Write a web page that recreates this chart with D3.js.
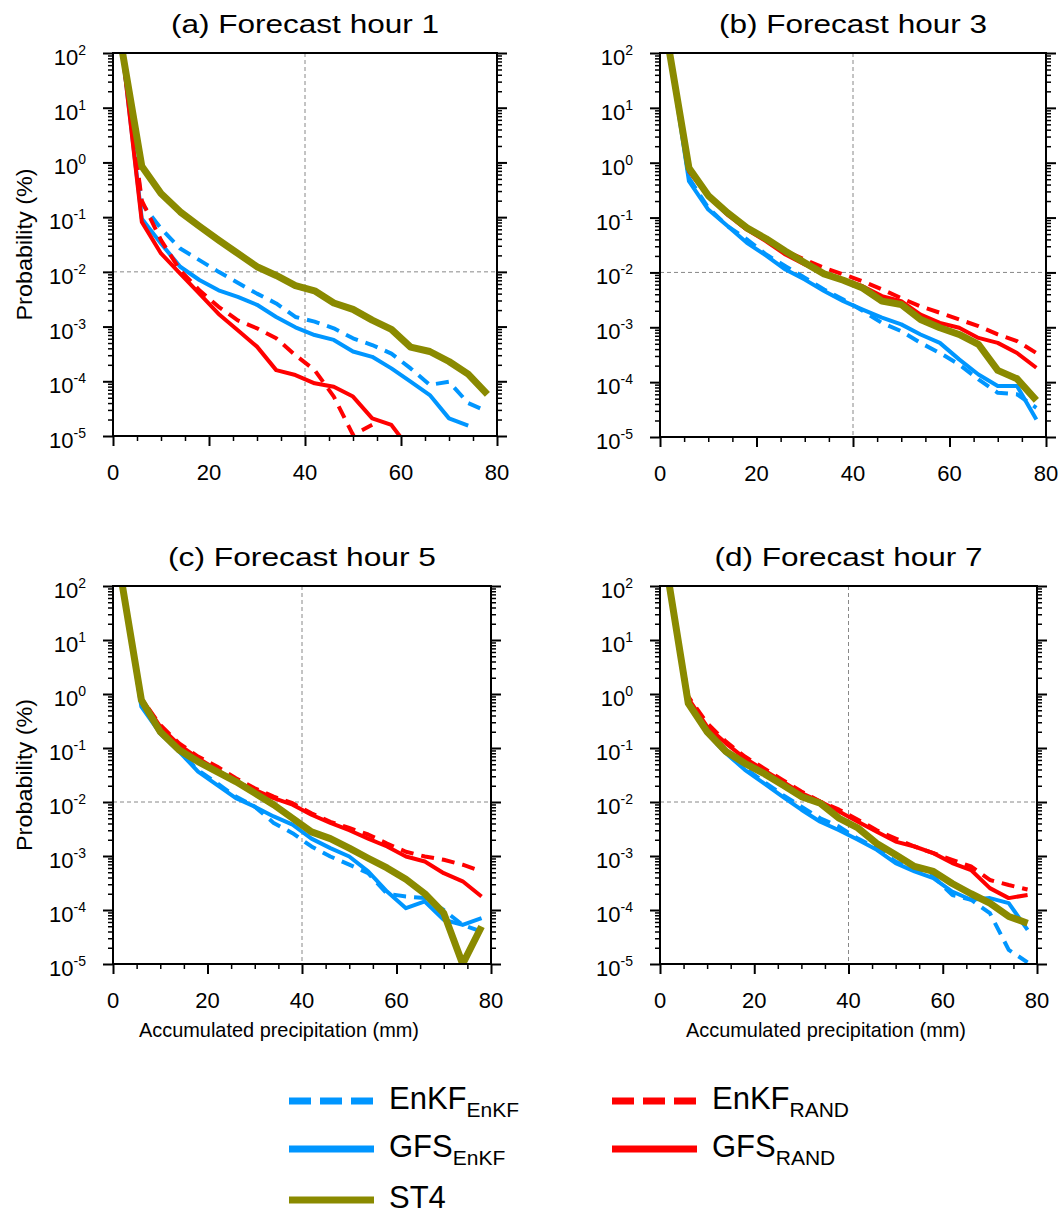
<!DOCTYPE html>
<html>
<head>
<meta charset="utf-8">
<script src="https://cdn.jsdelivr.net/npm/d3@7"></script>
<style>
  body { margin: 0; background: #fff; }
  svg { display: block; font-family: "Liberation Sans", Arial, Helvetica, sans-serif; }
</style>
</head>
<body>
<svg id="chart" width="1060" height="1217"></svg>
<script>
// precipitation thresholds (mm)
var thresholds = [2, 6, 10, 14, 18, 22, 26, 30, 34, 38, 42, 46, 50, 54, 58, 62, 66, 70, 74, 78];
var xTicks = [0, 20, 40, 60, 80];
var xMinor = [5, 10, 15, 25, 30, 35, 45, 50, 55, 65, 70, 75];
var yExponents = [2, 1, 0, -1, -2, -3, -4, -5];
var panelTitles = ['(a) Forecast hour 1', '(b) Forecast hour 3', '(c) Forecast hour 5', '(d) Forecast hour 7'];

// probability (%) per threshold
var h1_enkfEnkf = [100, 0.177, 0.062, 0.0267, 0.0164, 0.01, 0.0063, 0.004, 0.00265, 0.0015, 0.00123, 0.00093, 0.00061, 0.00046, 0.00032, 0.000172, 0.000086, 0.000098, 0.00004, 0.000028];
var h1_gfsEnkf  = [100, 0.094, 0.033, 0.0124, 0.0071, 0.0046, 0.0035, 0.0025, 0.0015, 0.00097, 0.0007, 0.00057, 0.00035, 0.00028, 0.000172, 0.0000984, 0.000056, 0.000021, 0.0000155];
var h1_enkfRand = [100, 0.2, 0.038, 0.0107, 0.0046, 0.0023, 0.0013, 0.00093, 0.00061, 0.0003, 0.00016, 0.0000525, 0.0000105, 0.000016];
var h1_gfsRand  = [100, 0.082, 0.0217, 0.0093, 0.004, 0.0017, 0.00086, 0.00043, 0.00016, 0.00013, 0.0000917, 0.0000797, 0.0000525, 0.000021, 0.0000159, 0.0000055];
var h1_st4      = [100, 0.85, 0.27, 0.125, 0.068, 0.038, 0.0217, 0.0124, 0.0086, 0.0056, 0.0045, 0.0027, 0.00206, 0.00131, 0.00089, 0.00042, 0.00035, 0.00023, 0.000135, 0.0000575];

var h3_enkfEnkf = [100, 0.53, 0.15, 0.07, 0.04, 0.0212, 0.013, 0.008, 0.0049, 0.0032, 0.002, 0.0012, 0.00085, 0.00052, 0.00034, 0.00021, 0.000112, 0.000064, 0.00006, 0.000034];
var h3_gfsEnkf  = [100, 0.46, 0.14, 0.07, 0.0346, 0.0203, 0.0113, 0.0074, 0.0046, 0.003, 0.0021, 0.0015, 0.00113, 0.00074, 0.00052, 0.00026, 0.000138, 0.0000848, 0.0000848, 0.0000209];
var h3_enkfRand = [100, 0.75, 0.245, 0.113, 0.0605, 0.04, 0.0244, 0.0172, 0.0121, 0.0092, 0.0069, 0.0049, 0.0034, 0.0024, 0.00184, 0.00139, 0.00105, 0.00074, 0.00056, 0.00034];
var h3_gfsRand  = [100, 0.7, 0.245, 0.113, 0.0605, 0.037, 0.0212, 0.014, 0.0098, 0.0074, 0.0056, 0.0037, 0.003, 0.0017, 0.0012, 0.00098, 0.00064, 0.00052, 0.00034, 0.000183];
var h3_st4      = [100, 0.8, 0.252, 0.122, 0.065, 0.041, 0.0244, 0.015, 0.0094, 0.0072, 0.0052, 0.003, 0.0026, 0.00139, 0.00098, 0.00074, 0.00049, 0.000164, 0.000115, 0.0000465];

var h5_enkfEnkf = [100, 0.67, 0.187, 0.086, 0.039, 0.0223, 0.0126, 0.0082, 0.0041, 0.00265, 0.0015, 0.00098, 0.00069, 0.00048, 0.0002, 0.000178, 0.000166, 0.0001, 0.000053, 0.00004];
var h5_gfsEnkf  = [100, 0.585, 0.187, 0.086, 0.0366, 0.0208, 0.0118, 0.0082, 0.0054, 0.0038, 0.0021, 0.0014, 0.00098, 0.00052, 0.00022, 0.000108, 0.000144, 0.000066, 0.000053, 0.0000708];
var h5_enkfRand = [100, 0.83, 0.267, 0.122, 0.0695, 0.0453, 0.0275, 0.018, 0.0126, 0.0095, 0.0062, 0.0043, 0.0033, 0.0025, 0.0017, 0.0012, 0.00098, 0.00085, 0.00069, 0.00052];
var h5_gfsRand  = [100, 0.83, 0.249, 0.114, 0.0647, 0.0394, 0.0239, 0.0168, 0.0118, 0.0089, 0.0058, 0.0041, 0.003, 0.0021, 0.0015, 0.00098, 0.00079, 0.00048, 0.00034, 0.000178];
var h5_st4      = [100, 0.776, 0.2, 0.092, 0.056, 0.0366, 0.0239, 0.0146, 0.0089, 0.005, 0.0028, 0.0021, 0.0014, 0.00091, 0.0006, 0.00037, 0.0002, 0.0000875, 0.00001, 0.0000495];

var h7_enkfEnkf = [100, 0.67, 0.187, 0.08, 0.0423, 0.0239, 0.0136, 0.0082, 0.005, 0.0035, 0.0021, 0.0014, 0.00079, 0.00055, 0.00042, 0.00019, 0.000155, 0.0000875, 0.0000183, 0.0000107];
var h7_gfsEnkf  = [100, 0.67, 0.187, 0.08, 0.0394, 0.0223, 0.0126, 0.0072, 0.0043, 0.003, 0.002, 0.0013, 0.00074, 0.00052, 0.00039, 0.00022, 0.000155, 0.000166, 0.000134, 0.000043];
var h7_enkfRand = [100, 0.9, 0.287, 0.131, 0.0695, 0.0423, 0.0257, 0.0156, 0.0102, 0.0072, 0.0047, 0.003, 0.0021, 0.0015, 0.00113, 0.00085, 0.00064, 0.00036, 0.00029, 0.00024];
var h7_gfsRand  = [100, 0.83, 0.249, 0.122, 0.0647, 0.0394, 0.0239, 0.0146, 0.0102, 0.0067, 0.0043, 0.0028, 0.00185, 0.0015, 0.00113, 0.00074, 0.00055, 0.000254, 0.000166, 0.00019];
var h7_st4      = [100, 0.67, 0.2, 0.086, 0.052, 0.034, 0.0208, 0.0126, 0.0095, 0.005, 0.0033, 0.0017, 0.00105, 0.00064, 0.00052, 0.00031, 0.0002, 0.000134, 0.000076, 0.000057];

var seriesNames = ['EnKF_EnKF', 'GFS_EnKF', 'EnKF_RAND', 'GFS_RAND', 'ST4'];
var seriesColors = ['#0096ff', '#0096ff', '#ff0000', '#ff0000', '#8a8a00'];
var seriesDash = [true, false, true, false, false];
var panelData = [
  [h1_enkfEnkf, h1_gfsEnkf, h1_enkfRand, h1_gfsRand, h1_st4],
  [h3_enkfEnkf, h3_gfsEnkf, h3_enkfRand, h3_gfsRand, h3_st4],
  [h5_enkfEnkf, h5_gfsEnkf, h5_enkfRand, h5_gfsRand, h5_st4],
  [h7_enkfEnkf, h7_gfsEnkf, h7_enkfRand, h7_gfsRand, h7_st4]
];

var boxes = [
  {x: 113, y: 53, w: 384, h: 383},
  {x: 660, y: 53, w: 386, h: 384},
  {x: 113, y: 586, w: 378, h: 378},
  {x: 660, y: 586, w: 377, h: 378}
];

var svg = d3.select('#chart');

var yMinor = [];
for (var e = -5; e < 2; e++) {
  for (var m = 2; m <= 9; m++) yMinor.push(m * Math.pow(10, e));
}

boxes.forEach(function(b, i) {
  var g = svg.append('g').attr('transform', 'translate(' + b.x + ',' + b.y + ')');
  var x = d3.scaleLinear().domain([0, 80]).range([0, b.w]);
  var y = d3.scaleLog().domain([1e-5, 100]).range([b.h, 0]);

  g.append('defs').append('clipPath').attr('id', 'clip' + i)
    .append('rect').attr('width', b.w).attr('height', b.h);

  // reference lines
  g.append('line')
    .attr('x1', x(40)).attr('x2', x(40)).attr('y1', 0).attr('y2', b.h)
    .attr('stroke', '#888').attr('stroke-width', 1).attr('stroke-dasharray', '4,3');
  g.append('line')
    .attr('x1', 0).attr('x2', b.w).attr('y1', y(0.01)).attr('y2', y(0.01))
    .attr('stroke', '#888').attr('stroke-width', 1).attr('stroke-dasharray', '4,3');

  var line = d3.line()
    .x(function(d, k) { return x(thresholds[k]); })
    .y(function(d) { return y(d); });

  var lines = g.append('g').attr('clip-path', 'url(#clip' + i + ')');
  panelData[i].forEach(function(vals, s) {
    lines.append('path')
      .attr('d', line(vals))
      .attr('fill', 'none')
      .attr('stroke', seriesColors[s])
      .attr('stroke-width', s === 4 ? 7 : 4)
      .attr('stroke-linejoin', 'round')
      .attr('stroke-dasharray', seriesDash[s] ? '13,8' : null);
  });

  // axes
  function styleAxis(sel, w) {
    sel.select('.domain').remove();
    sel.selectAll('line').attr('stroke', '#000').attr('stroke-width', w);
    sel.selectAll('text').remove();
  }
  g.append('g').attr('transform', 'translate(0,' + b.h + ')')
    .call(d3.axisBottom(x).tickValues(xTicks).tickSize(10))
    .call(styleAxis, 2);
  g.append('g').attr('transform', 'translate(0,' + b.h + ')')
    .call(d3.axisBottom(x).tickValues(xMinor).tickSize(5))
    .call(styleAxis, 1.5);
  [['axisLeft', 0], ['axisRight', b.w]].forEach(function(a) {
    g.append('g').attr('transform', 'translate(' + a[1] + ',0)')
      .call(d3[a[0]](y).tickValues(yExponents.map(function(p) { return Math.pow(10, p); })).tickSize(10))
      .call(styleAxis, 2);
    g.append('g').attr('transform', 'translate(' + a[1] + ',0)')
      .call(d3[a[0]](y).tickValues(yMinor).tickSize(5))
      .call(styleAxis, 1.5);
  });

  g.append('rect').attr('width', b.w).attr('height', b.h)
    .attr('fill', 'none').attr('stroke', '#000').attr('stroke-width', 2);

  // tick labels
  g.selectAll('.xl').data(xTicks).enter().append('text')
    .attr('x', function(d) { return x(d); }).attr('y', b.h + 44)
    .attr('text-anchor', 'middle').attr('font-size', 22).text(function(d) { return d; });

  var yl = g.selectAll('.yl').data(yExponents).enter().append('text')
    .attr('x', -27).attr('y', function(d) { return y(Math.pow(10, d)) + 12; })
    .attr('text-anchor', 'end').attr('font-size', 22);
  yl.append('tspan').text('10');
  yl.append('tspan').attr('dy', -10).attr('font-size', 14).text(function(d) { return d; });

  g.append('text').attr('x', b.w / 2).attr('y', -20)
    .attr('text-anchor', 'middle').attr('font-size', 25)
    .attr('textLength', 268).attr('lengthAdjust', 'spacingAndGlyphs')
    .text(panelTitles[i]);

  if (i >= 2) {
    g.append('text').attr('x', 166).attr('y', b.h + 73)
      .attr('text-anchor', 'middle')
      .attr('font-size', 21).attr('textLength', 280).attr('lengthAdjust', 'spacingAndGlyphs')
      .text('Accumulated precipitation (mm)');
  }
  if (i % 2 === 0) {
    g.append('text')
      .attr('transform', 'translate(' + (32 - b.x) + ',' + (b.h / 2) + ') rotate(-90)')
      .attr('text-anchor', 'middle').attr('font-size', 22)
      .attr('textLength', 152).attr('lengthAdjust', 'spacingAndGlyphs')
      .text('Probability (%)');
  }
});

// legend
var legendItems = [
  {col: 0, row: 0, s: 0, main: 'EnKF', sub: 'EnKF'},
  {col: 1, row: 0, s: 2, main: 'EnKF', sub: 'RAND'},
  {col: 0, row: 1, s: 1, main: 'GFS', sub: 'EnKF'},
  {col: 1, row: 1, s: 3, main: 'GFS', sub: 'RAND'},
  {col: 0, row: 2, s: 4, main: 'ST4', sub: ''}
];
var legendColX = [289, 612];
var legendRowY = [1101, 1149, 1200];

var lg = svg.append('g');
legendItems.forEach(function(it) {
  var lx = legendColX[it.col], ly = legendRowY[it.row];
  lg.append('line')
    .attr('x1', lx).attr('x2', lx + 85).attr('y1', ly).attr('y2', ly)
    .attr('stroke', seriesColors[it.s]).attr('stroke-width', 7)
    .attr('stroke-dasharray', seriesDash[it.s] ? '22,9' : null);
  var t = lg.append('text').attr('x', lx + 100).attr('y', ly + 8).attr('font-size', 31);
  t.append('tspan').text(it.main);
  if (it.sub) t.append('tspan').attr('dy', 8).attr('font-size', 21).text(it.sub);
});
</script>
</body>
</html>
